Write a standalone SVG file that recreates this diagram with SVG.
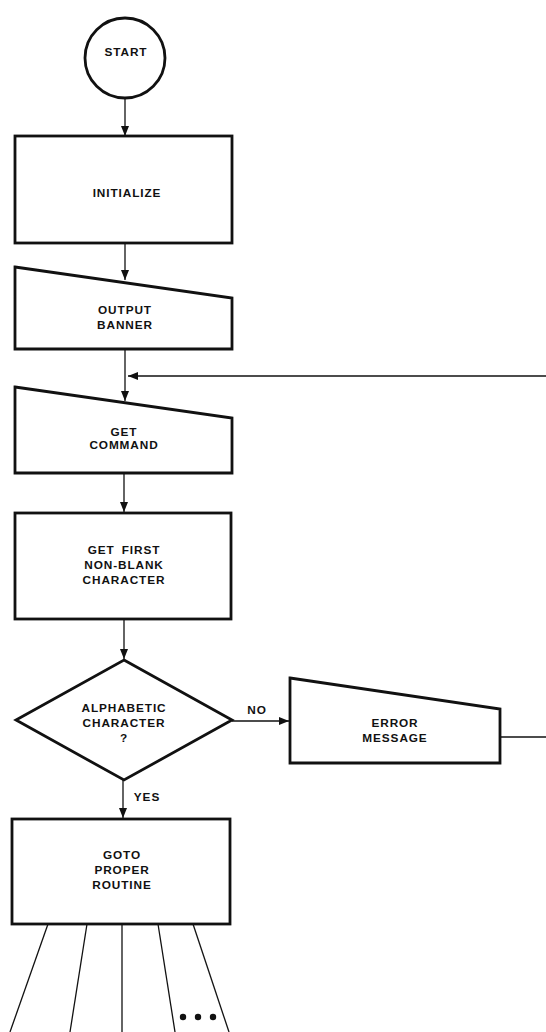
<svg xmlns="http://www.w3.org/2000/svg" width="546" height="1032" viewBox="0 0 546 1032">
<style>
.box{fill:#fff;stroke:#111;stroke-width:2.8;stroke-linejoin:miter}
.ln{fill:none;stroke:#111;stroke-width:1.3}
.t{font-family:"Liberation Sans",Arial,sans-serif;font-weight:bold;font-size:11.8px;letter-spacing:0.9px;word-spacing:3px;fill:#111;text-anchor:middle}
</style>
<defs>
<marker id="ah" viewBox="0 0 10 8" refX="10" refY="4" markerWidth="10" markerHeight="8" markerUnits="userSpaceOnUse" orient="auto">
<path d="M0,0 L10,4 L0,8 Z" fill="#111"/>
</marker>
</defs>
<rect width="546" height="1032" fill="#fff"/>
<g id="connectors">
<line class="ln" x1="125" y1="98" x2="125" y2="136" marker-end="url(#ah)"/>
<line class="ln" x1="125" y1="243" x2="125" y2="280" marker-end="url(#ah)"/>
<line class="ln" x1="125" y1="349" x2="125" y2="401" marker-end="url(#ah)"/>
<line class="ln" x1="546" y1="376" x2="128" y2="376" marker-end="url(#ah)"/>
<line class="ln" x1="124" y1="473" x2="124" y2="512" marker-end="url(#ah)"/>
<line class="ln" x1="124" y1="619" x2="124" y2="659" marker-end="url(#ah)"/>
<line class="ln" x1="232" y1="721" x2="289" y2="721" marker-end="url(#ah)"/>
<line class="ln" x1="500" y1="737" x2="546" y2="737"/>
<line class="ln" x1="123" y1="780" x2="123" y2="818" marker-end="url(#ah)"/>
<line class="ln" x1="48" y1="924" x2="10" y2="1032"/>
<line class="ln" x1="87" y1="924" x2="70" y2="1032"/>
<line class="ln" x1="122" y1="924" x2="122" y2="1032"/>
<line class="ln" x1="158" y1="924" x2="175" y2="1032"/>
<line class="ln" x1="193" y1="924" x2="229" y2="1032"/>
<text class="t" x="257" y="714">NO</text>
<text class="t" x="147" y="801">YES</text>
<circle cx="183" cy="1017" r="3.2" fill="#111"/>
<circle cx="198" cy="1017" r="3.2" fill="#111"/>
<circle cx="213" cy="1017" r="3.2" fill="#111"/>
</g>
<g id="start">
<circle class="box" cx="125" cy="58" r="40"/>
<text class="t" x="126" y="56">START</text>
</g>
<g id="initialize">
<rect class="box" x="15" y="136" width="217" height="107"/>
<text class="t" x="127" y="197">INITIALIZE</text>
</g>
<g id="output-banner">
<path class="box" d="M15,267 L232,298 L232,349 L15,349 Z"/>
<text class="t" x="125" y="314">OUTPUT</text>
<text class="t" x="125" y="329">BANNER</text>
</g>
<g id="get-command">
<path class="box" d="M15,387 L232,418 L232,473 L15,473 Z"/>
<text class="t" x="124" y="436">GET</text>
<text class="t" x="124" y="449">COMMAND</text>
</g>
<g id="get-first">
<rect class="box" x="15" y="513" width="216" height="106"/>
<text class="t" x="124" y="554">GET FIRST</text>
<text class="t" x="124" y="569">NON-BLANK</text>
<text class="t" x="124" y="584">CHARACTER</text>
</g>
<g id="alphabetic">
<path class="box" d="M124,660 L232,720 L124,780 L16,720 Z"/>
<text class="t" x="124" y="712">ALPHABETIC</text>
<text class="t" x="124" y="727">CHARACTER</text>
<text class="t" x="124" y="742">?</text>
</g>
<g id="error-message">
<path class="box" d="M290,678 L500,709 L500,763 L290,763 Z"/>
<text class="t" x="395" y="727">ERROR</text>
<text class="t" x="395" y="742">MESSAGE</text>
</g>
<g id="goto">
<rect class="box" x="12" y="819" width="218" height="105"/>
<text class="t" x="122" y="859">GOTO</text>
<text class="t" x="122" y="874">PROPER</text>
<text class="t" x="122" y="889">ROUTINE</text>
</g>
</svg>
